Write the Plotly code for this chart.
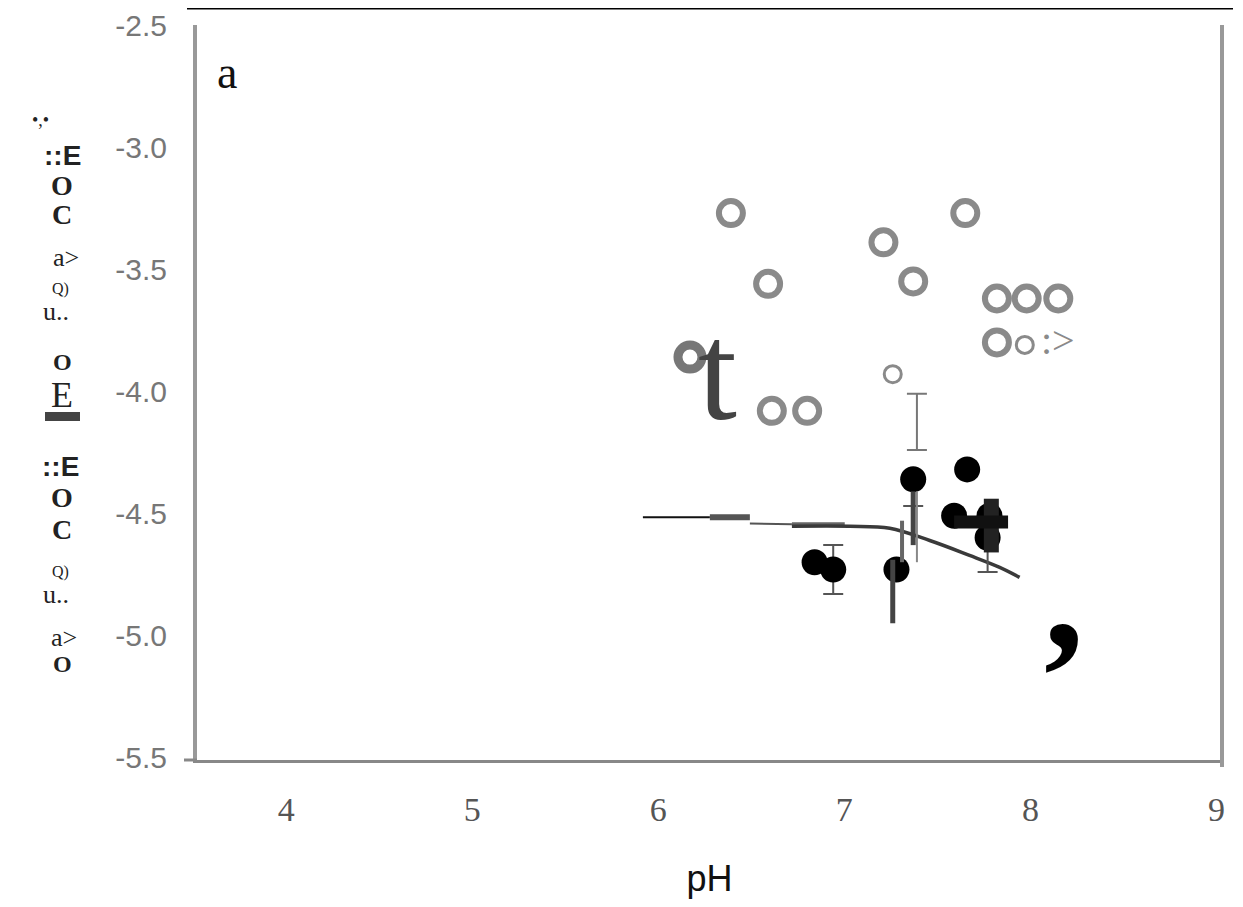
import plotly.graph_objects as go

# ---------------- data ----------------
x_ticks = [4, 5, 6, 7, 8, 9]
x_ticklabels = ["4", "5", "6", "7", "8", "9"]
y_ticks = [-2.5, -3.0, -3.5, -4.0, -4.5, -5.0, -5.5]
y_ticklabels = ["-2.5", "-3.0", "-3.5", "-4.0", "-4.5", "-5.0", "-5.5"]

# open (grey) circles
open_x = [6.39, 7.65, 7.21, 6.59, 7.37, 7.82, 7.98, 8.15, 7.82, 6.61, 6.80]
open_y = [-3.27, -3.27, -3.39, -3.56, -3.55, -3.62, -3.62, -3.62, -3.80, -4.08, -4.08]
open_bold_x = [6.17]
open_bold_y = [-3.86]
open_small_x = [7.97, 7.26]
open_small_y = [-3.81, -3.93]

# error bar without marker (open series)
open_err_x = [7.39]
open_err_y = [-4.125]
open_err = [0.115]

# filled (black) circles
filled_x = [6.84, 6.94, 7.28, 7.37, 7.59, 7.78, 7.77, 7.66]
filled_y = [-4.70, -4.73, -4.73, -4.36, -4.51, -4.51, -4.60, -4.32]
filled_err_plus = [0.0, 0.10, 0.0, 0.0, 0.0, 0.0, 0.0, 0.0]
filled_err_minus = [0.0, 0.10, 0.0, 0.11, 0.0, 0.0, 0.14, 0.0]

# fitted curve
fit_x = [6.718, 7.029, 7.244, 7.459, 7.673, 7.835, 7.942]
fit_y = [-4.553, -4.553, -4.561, -4.611, -4.672, -4.721, -4.762]
ext1_x = [5.917, 6.277]
ext1_y = [-4.516, -4.516]
ext2_x = [6.277, 6.492]
ext2_y = [-4.516, -4.516]
ext3_x = [6.492, 6.718]
ext3_y = [-4.541, -4.545]
ext4_x = [6.718, 7.002]
ext4_y = [-4.545, -4.545]

# vertical bar segments
bars_x = [7.26, 7.37, 7.31, 7.79, 7.39]
bars_top = [-4.69, -4.41, -4.53, -4.44, -4.41]
bars_bot = [-4.95, -4.63, -4.70, -4.66, -4.70]
bars_color = ["#444444", "#444444", "#666666", "#222222", "#888888"]
bars_width = [5, 5, 4, 15, 2]
hbar_x = [7.59, 7.88]
hbar_y = [-4.535, -4.535]

fig = go.Figure()

fig.add_trace(go.Scatter(x=ext1_x, y=ext1_y, mode="lines",
                         line=dict(color="#111111", width=2), showlegend=False))
fig.add_trace(go.Scatter(x=ext2_x, y=ext2_y, mode="lines",
                         line=dict(color="#555555", width=6), showlegend=False))
fig.add_trace(go.Scatter(x=ext3_x, y=ext3_y, mode="lines",
                         line=dict(color="#555555", width=2), showlegend=False))
fig.add_trace(go.Scatter(x=ext4_x, y=ext4_y, mode="lines",
                         line=dict(color="#666666", width=4), showlegend=False))
fig.add_trace(go.Scatter(x=fit_x, y=fit_y, mode="lines", line_shape="spline",
                         line=dict(color="#3a3a3a", width=3.5), showlegend=False))

fig.add_trace(go.Scatter(x=open_x, y=open_y, mode="markers",
                         marker=dict(symbol="circle-open", size=24, color="#8a8a8a",
                                     line=dict(width=6, color="#8a8a8a")),
                         showlegend=False))
fig.add_trace(go.Scatter(x=open_bold_x, y=open_bold_y, mode="markers",
                         marker=dict(symbol="circle-open", size=24, color="#777777",
                                     line=dict(width=9, color="#777777")),
                         showlegend=False))
fig.add_trace(go.Scatter(x=open_small_x, y=open_small_y, mode="markers",
                         marker=dict(symbol="circle-open", size=17, color="#8a8a8a",
                                     line=dict(width=3, color="#8a8a8a")),
                         showlegend=False))
fig.add_trace(go.Scatter(x=open_err_x, y=open_err_y, mode="markers",
                         marker=dict(size=1, color="rgba(0,0,0,0)"),
                         error_y=dict(type="data", array=open_err, color="#777777",
                                      thickness=2, width=10),
                         showlegend=False))

fig.add_trace(go.Scatter(x=filled_x, y=filled_y, mode="markers",
                         marker=dict(symbol="circle", size=26, color="#000000"),
                         error_y=dict(type="data", symmetric=False,
                                      array=filled_err_plus, arrayminus=filled_err_minus,
                                      color="#555555", thickness=2, width=10),
                         showlegend=False))

for bx, bt, bb, bc, bw in zip(bars_x, bars_top, bars_bot, bars_color, bars_width):
    fig.add_trace(go.Scatter(x=[bx, bx], y=[bt, bb], mode="lines",
                             line=dict(color=bc, width=bw), showlegend=False))
fig.add_trace(go.Scatter(x=hbar_x, y=hbar_y, mode="lines",
                         line=dict(color="#111111", width=13), showlegend=False))

# page geometry (page body has an 8px margin)
OFF = 8
W, H = 1243 - 2 * OFF, 907 - 2 * OFF
PL, PR, PT, PB = 197, 1222, 25, 760          # plot box in page pixels
L, R, T, B = PL - OFF, (OFF + W) - PR, PT - OFF, (OFF + H) - PB
pw, ph = W - L - R, H - T - B


def px2x(px):
    return (px - PL) / pw


def py2y(py):
    return (PB - py) / ph


annotations = [
    dict(text="a", x=px2x(227), y=py2y(72), xref="paper", yref="paper", showarrow=False,
         xanchor="center", yanchor="middle",
         font=dict(family="Liberation Serif", size=46, color="#111111")),
    dict(text="t", x=6.32, y=-3.92, xref="x", yref="y", showarrow=False,
         font=dict(family="Liberation Serif", size=140, color="#444444")),
    dict(text=":>", x=8.15, y=-3.79, xref="x", yref="y", showarrow=False,
         font=dict(family="Liberation Serif", size=40, color="#8a8a8a")),
    dict(text="<b>,</b>", x=8.18, y=-4.83, xref="x", yref="y", showarrow=False,
         font=dict(family="Liberation Serif", size=160, color="#000000")),
]

ytitle = [
    ("•,•", 40, 120, 18, "Liberation Serif", False),
    ("::E", 62, 156, 28, "Liberation Sans Narrow, Liberation Sans", True),
    ("O", 62, 185, 28, "Liberation Serif", True),
    ("C", 62, 215, 28, "Liberation Serif", True),
    ("a>", 66, 258, 26, "Liberation Serif", False),
    ("Q)", 60, 289, 16, "Liberation Serif", False),
    ("u..", 56, 311, 26, "Liberation Serif", False),
    ("O", 62, 362, 24, "Liberation Serif", True),
    ("E", 62, 395, 36, "Liberation Serif", False),
    ("::E", 60, 466, 28, "Liberation Sans Narrow, Liberation Sans", True),
    ("O", 62, 497, 28, "Liberation Serif", True),
    ("C", 62, 529, 28, "Liberation Serif", True),
    ("Q)", 60, 572, 16, "Liberation Serif", False),
    ("u..", 56, 594, 26, "Liberation Serif", False),
    ("a>", 64, 637, 26, "Liberation Serif", False),
    ("O", 62, 664, 24, "Liberation Serif", True),
]
for txt, px, py, sz, fam, bold in ytitle:
    annotations.append(dict(
        text=f"<b>{txt}</b>" if bold else txt,
        x=px2x(px), y=py2y(py), xref="paper", yref="paper",
        showarrow=False, xanchor="center", yanchor="middle",
        font=dict(family=fam, size=sz, color="#222222")))

shapes = [
    dict(type="line", xref="paper", yref="paper",
         x0=px2x(187), x1=px2x(1233), y0=py2y(8), y1=py2y(8),
         line=dict(color="#000000", width=3)),
    dict(type="line", xref="paper", yref="paper",
         x0=1.0, x1=1.0, y0=py2y(767), y1=1.0,
         line=dict(color="#999999", width=4)),
    dict(type="rect", xref="paper", yref="paper",
         x0=px2x(45), x1=px2x(80), y0=py2y(421), y1=py2y(412),
         fillcolor="#444444", line=dict(width=0)),
    dict(type="line", xref="paper", yref="paper",
         x0=px2x(184), x1=0, y0=0, y1=0,
         line=dict(color="#888888", width=3)),
]

fig.update_layout(
    width=W, height=H,
    margin=dict(l=L, r=R, t=T, b=B, autoexpand=False),
    paper_bgcolor="white", plot_bgcolor="white",
    annotations=annotations, shapes=shapes,
    xaxis=dict(range=[3.52, 9.03], tickvals=x_ticks, ticktext=x_ticklabels,
               automargin=False, ticklabeloverflow="allow",
               showgrid=False, zeroline=False, showline=True, linecolor="#888888",
               linewidth=3, ticks="", ticklabelstandoff=17,
               tickfont=dict(family="Liberation Serif", size=34, color="#555555"),
               title=dict(text="pH", standoff=40,
                          font=dict(family="Liberation Sans", size=36, color="#111111"))),
    yaxis=dict(range=[-5.51, -2.5], tickvals=y_ticks, ticktext=y_ticklabels,
               automargin=False, ticklabeloverflow="allow",
               showgrid=False, zeroline=False, showline=True, linecolor="#999999",
               linewidth=4, ticks="", ticklabelstandoff=20,
               tickfont=dict(family="Liberation Sans", size=30, color="#777777")),
)

fig.write_html("out.html")
